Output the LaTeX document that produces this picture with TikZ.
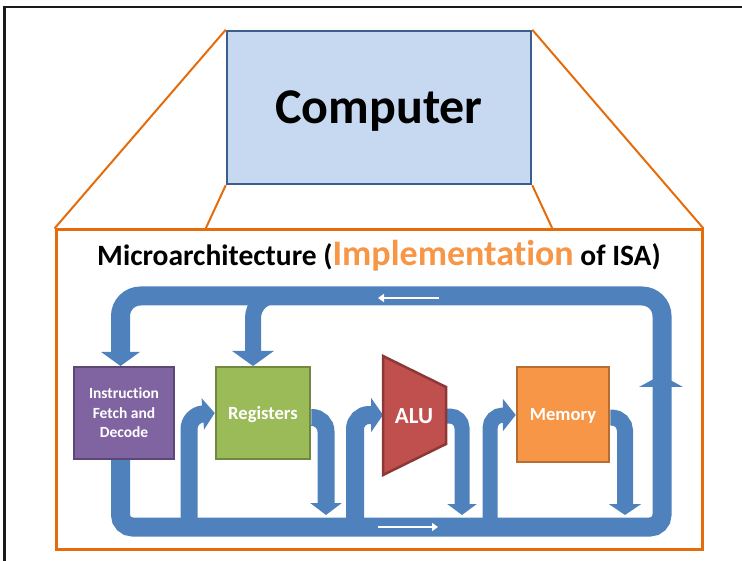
\documentclass[tikz,border=0pt]{standalone}
\usepackage{fontspec}
\setmainfont{Carlito}[Ligatures=NoCommon]
\usetikzlibrary{arrows.meta}

\definecolor{bandblue}{HTML}{4F81BD}
\definecolor{compfill}{HTML}{C6D9F1}
\definecolor{compline}{HTML}{3B5E8C}
\definecolor{zoomorange}{HTML}{E46C0A}
\definecolor{ifdfill}{HTML}{8064A2}
\definecolor{ifdline}{HTML}{5C4776}
\definecolor{regfill}{HTML}{9BBB59}
\definecolor{regline}{HTML}{71893F}
\definecolor{alufill}{HTML}{C0504D}
\definecolor{aluline}{HTML}{8C3836}
\definecolor{memfill}{HTML}{F79646}
\definecolor{memline}{HTML}{B66D31}
\definecolor{implorange}{HTML}{F79646}
\definecolor{framegray}{HTML}{1A1A1A}

\tikzset{
  flow/.style={draw=bandblue, line width=#1},
  flow/.default=18pt,
  zoomline/.style={draw=zoomorange, line width=2pt},
  unitbox/.style={draw, line width=2.5pt, inner sep=0pt, text=white,
    font=\bfseries\fontsize{18.6}{20}\selectfont},
  dirmark/.style={draw=white, line width=2.2pt, -{Triangle[length=6pt,width=8pt]}},
}

\begin{document}
\begin{tikzpicture}[x=1pt,y=-1pt]
\useasboundingbox (0,0) rectangle (742,561);

% page frame (left and top edges)
\draw[framegray, line width=2.5pt] (4.5,561) -- (4.5,7) -- (742,7);

% computer box and the enlarged microarchitecture panel
\node[draw=zoomorange, line width=3pt, minimum width=646pt, minimum height=319pt,
      inner sep=0pt] (micro) at (379,389.5) {};
\coordinate (inL) at (205,230);
\coordinate (inR) at (553,230);
\node[draw=compline, fill=compfill, line width=2.5pt, minimum width=304pt,
      minimum height=153pt, inner sep=0pt, text depth=0pt,
      font=\bfseries\fontsize{50}{55}\selectfont] (comp) at (379,107.5) {Computer};
\draw[zoomline] (comp.north west) -- (micro.north west);
\draw[zoomline] (comp.north east) -- (micro.north east);
\draw[zoomline] (comp.south west) -- (inL);
\draw[zoomline] (comp.south east) -- (inR);

% panel title
\node[anchor=base, inner sep=0pt, font=\bfseries] (title) at (379,266)
  {\fontsize{29.5}{31}\selectfont Microarchitecture (%
   {\fontsize{36}{40}\selectfont\color{implorange}Implementation}\ of ISA)};

% functional units
\node[unitbox, fill=ifdfill, draw=ifdline, minimum width=100pt, minimum height=92pt,
      align=center, font=\bfseries\fontsize{15.5}{19.5}\selectfont]
      (ifd) at (124,413) {Instruction\\Fetch and\\Decode};
\node[unitbox, fill=regfill, draw=regline, minimum width=94pt, minimum height=92pt,
      text height=12pt, text depth=0pt] (reg) at (263,413) {Registers};
\node[unitbox, fill=memfill, draw=memline, minimum width=92pt, minimum height=95pt,
      text height=12pt, text depth=0pt] (mem) at (563,414.5) {Memory};
\coordinate (alutop) at (383,356);
\coordinate (aluin) at (383,415);
\coordinate (aluout) at (446,416);

% data-flow bands
\draw[flow=19pt, -{Triangle[length=14pt,width=38pt]}]
  (120.5,459) [rounded corners=12pt] -- (120.5,527) -- (662,527)
  [rounded corners=20pt] -- (662,296) -- (120.5,296) -- (120.5,366);
\fill[bandblue] (639,387) -- (683,387) -- (661,375) -- cycle;
\draw[flow=16pt, rounded corners=22pt, -{Triangle[length=15pt,width=41pt]}]
  (300,296) -- (253,296) -- (253,366);

\draw[flow=17pt, rounded corners=14pt, -{Triangle[length=12pt,width=31pt]}]
  (189,527) -- (189,415) -- (reg.west);
\draw[flow=17pt, rounded corners=14pt, -{Triangle[length=12pt,width=31pt]}]
  (reg.east |- 0,417.5) -- (326,417.5) -- (326,515);
\draw[flow=18pt, rounded corners=14pt, -{Triangle[length=12pt,width=34pt]}]
  (355,527) -- (355,415) -- (aluin);
\draw[flow=15pt, rounded corners=12pt, -{Triangle[length=11pt,width=29pt]}]
  (aluout) -- (462,416) -- (462,515);
\draw[flow=15pt, rounded corners=13pt, -{Triangle[length=13pt,width=32pt]}]
  (490,527) -- (490,415) -- (mem.west |- 0,415);
\draw[flow=16pt, rounded corners=13pt, -{Triangle[length=11pt,width=32pt]}]
  (mem.east |- 0,417.5) -- (625,417.5) -- (625,515);

% direction marks on the bus
\coordinate (topA) at (439,298);
\coordinate (topB) at (378,298);
\coordinate (botA) at (378,527);
\coordinate (botB) at (438,527);
\draw[dirmark] (topA) -- (topB);
\draw[dirmark] (botA) -- (botB);

% ALU (drawn over the band ends)
\filldraw[fill=alufill, draw=aluline, line width=2.5pt]
  (alutop) -- (446,387) -- (446,444) -- (383,475) -- cycle;
\node[text=white, inner sep=0pt, text height=15pt, text depth=0pt,
      font=\bfseries\fontsize{23}{25}\selectfont] (alu) at (414,415.5) {ALU};

% unit boxes redrawn over the band ends
\node[unitbox, fill=ifdfill, draw=ifdline, minimum width=100pt, minimum height=92pt,
      align=center, font=\bfseries\fontsize{15.5}{19.5}\selectfont]
      (ifdtop) at (ifd) {Instruction\\Fetch and\\Decode};
\node[unitbox, fill=regfill, draw=regline, minimum width=94pt, minimum height=92pt,
      text height=12pt, text depth=0pt] (regtop) at (reg) {Registers};
\node[unitbox, fill=memfill, draw=memline, minimum width=92pt, minimum height=95pt,
      text height=12pt, text depth=0pt] (memtop) at (mem) {Memory};
\end{tikzpicture}
\end{document}
